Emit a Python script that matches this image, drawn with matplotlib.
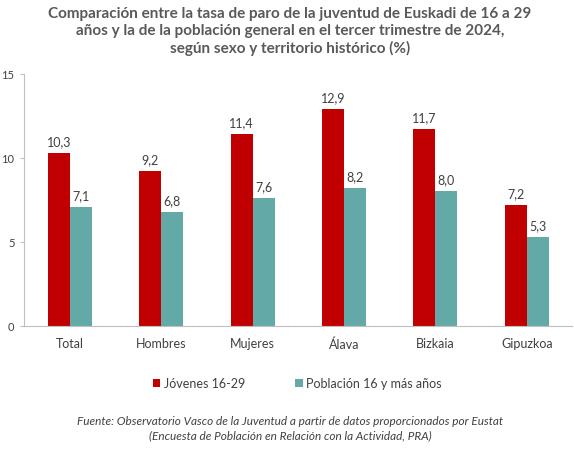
import numpy as np
import matplotlib.pyplot as plt

plt.rcParams['font.family'] = ['Lato', 'DejaVu Sans']

categorias = ["Total", "Hombres", "Mujeres", "Álava", "Bizkaia", "Gipuzkoa"]
jovenes = [10.3, 9.2, 11.4, 12.9, 11.7, 7.2]
poblacion = [7.1, 6.8, 7.6, 8.2, 8.0, 5.3]
series = ["Jóvenes 16-29", "Población 16 y más años"]

rojo = "#C00000"
verde = "#63A9A8"
gris = "#404040"

fig = plt.figure(figsize=(5.74, 4.56), dpi=100)
ax = fig.add_axes([0.0423, 0.283, 0.955, 0.553])

x = np.arange(len(categorias))
w = 0.24
b1 = ax.bar(x - w / 2, jovenes, w, color=rojo, label=series[0])
b2 = ax.bar(x + w / 2, poblacion, w, color=verde, label=series[1])

for bars, vals in ((b1, jovenes), (b2, poblacion)):
    for r, v in zip(bars, vals):
        ax.text(r.get_x() + r.get_width() / 2, v + 0.35, f"{v:.1f}".replace(".", ","),
                ha="center", va="bottom", fontsize=9, color=gris)

ax.set_xlim(-0.5, len(categorias) - 0.5)
ax.set_ylim(0, 15)
ax.set_yticks([0, 5, 10, 15])
ax.set_xticks(x)
ax.set_xticklabels(categorias)
ax.tick_params(axis="x", length=0, pad=8, labelsize=9, labelcolor=gris)
ax.tick_params(axis="y", length=3, width=0.8, color="#BFBFBF", pad=4, labelsize=8, labelcolor=gris)
for s in ("top", "right"):
    ax.spines[s].set_visible(False)
for s in ("left", "bottom"):
    ax.spines[s].set_color("#BFBFBF")
    ax.spines[s].set_linewidth(0.8)

fig.text(0.505, 0.985, "Comparación entre la tasa de paro de la juventud de Euskadi de 16 a 29\n"
         "años y la de la población general en el tercer trimestre de 2024,\n"
         "según sexo y territorio histórico (%)",
         ha="center", va="top", fontsize=11, fontweight="bold", color="#595959", linespacing=1.25)

fig.legend(handles=[b1, b2], labels=series, loc="center", bbox_to_anchor=(0.518, 0.158),
           ncol=2, frameon=False, fontsize=9, handlelength=0.6, handleheight=0.6,
           handletextpad=0.3, columnspacing=4.0, labelcolor=gris)

fig.text(0.505, 0.06, "Fuente: Observatorio Vasco de la Juventud a partir de datos proporcionados por Eustat\n"
         "(Encuesta de Población en Relación con la Actividad, PRA)",
         ha="center", va="center", fontsize=8.5, style="italic", color=gris, linespacing=1.3)

fig.savefig("out.png", dpi=100)
